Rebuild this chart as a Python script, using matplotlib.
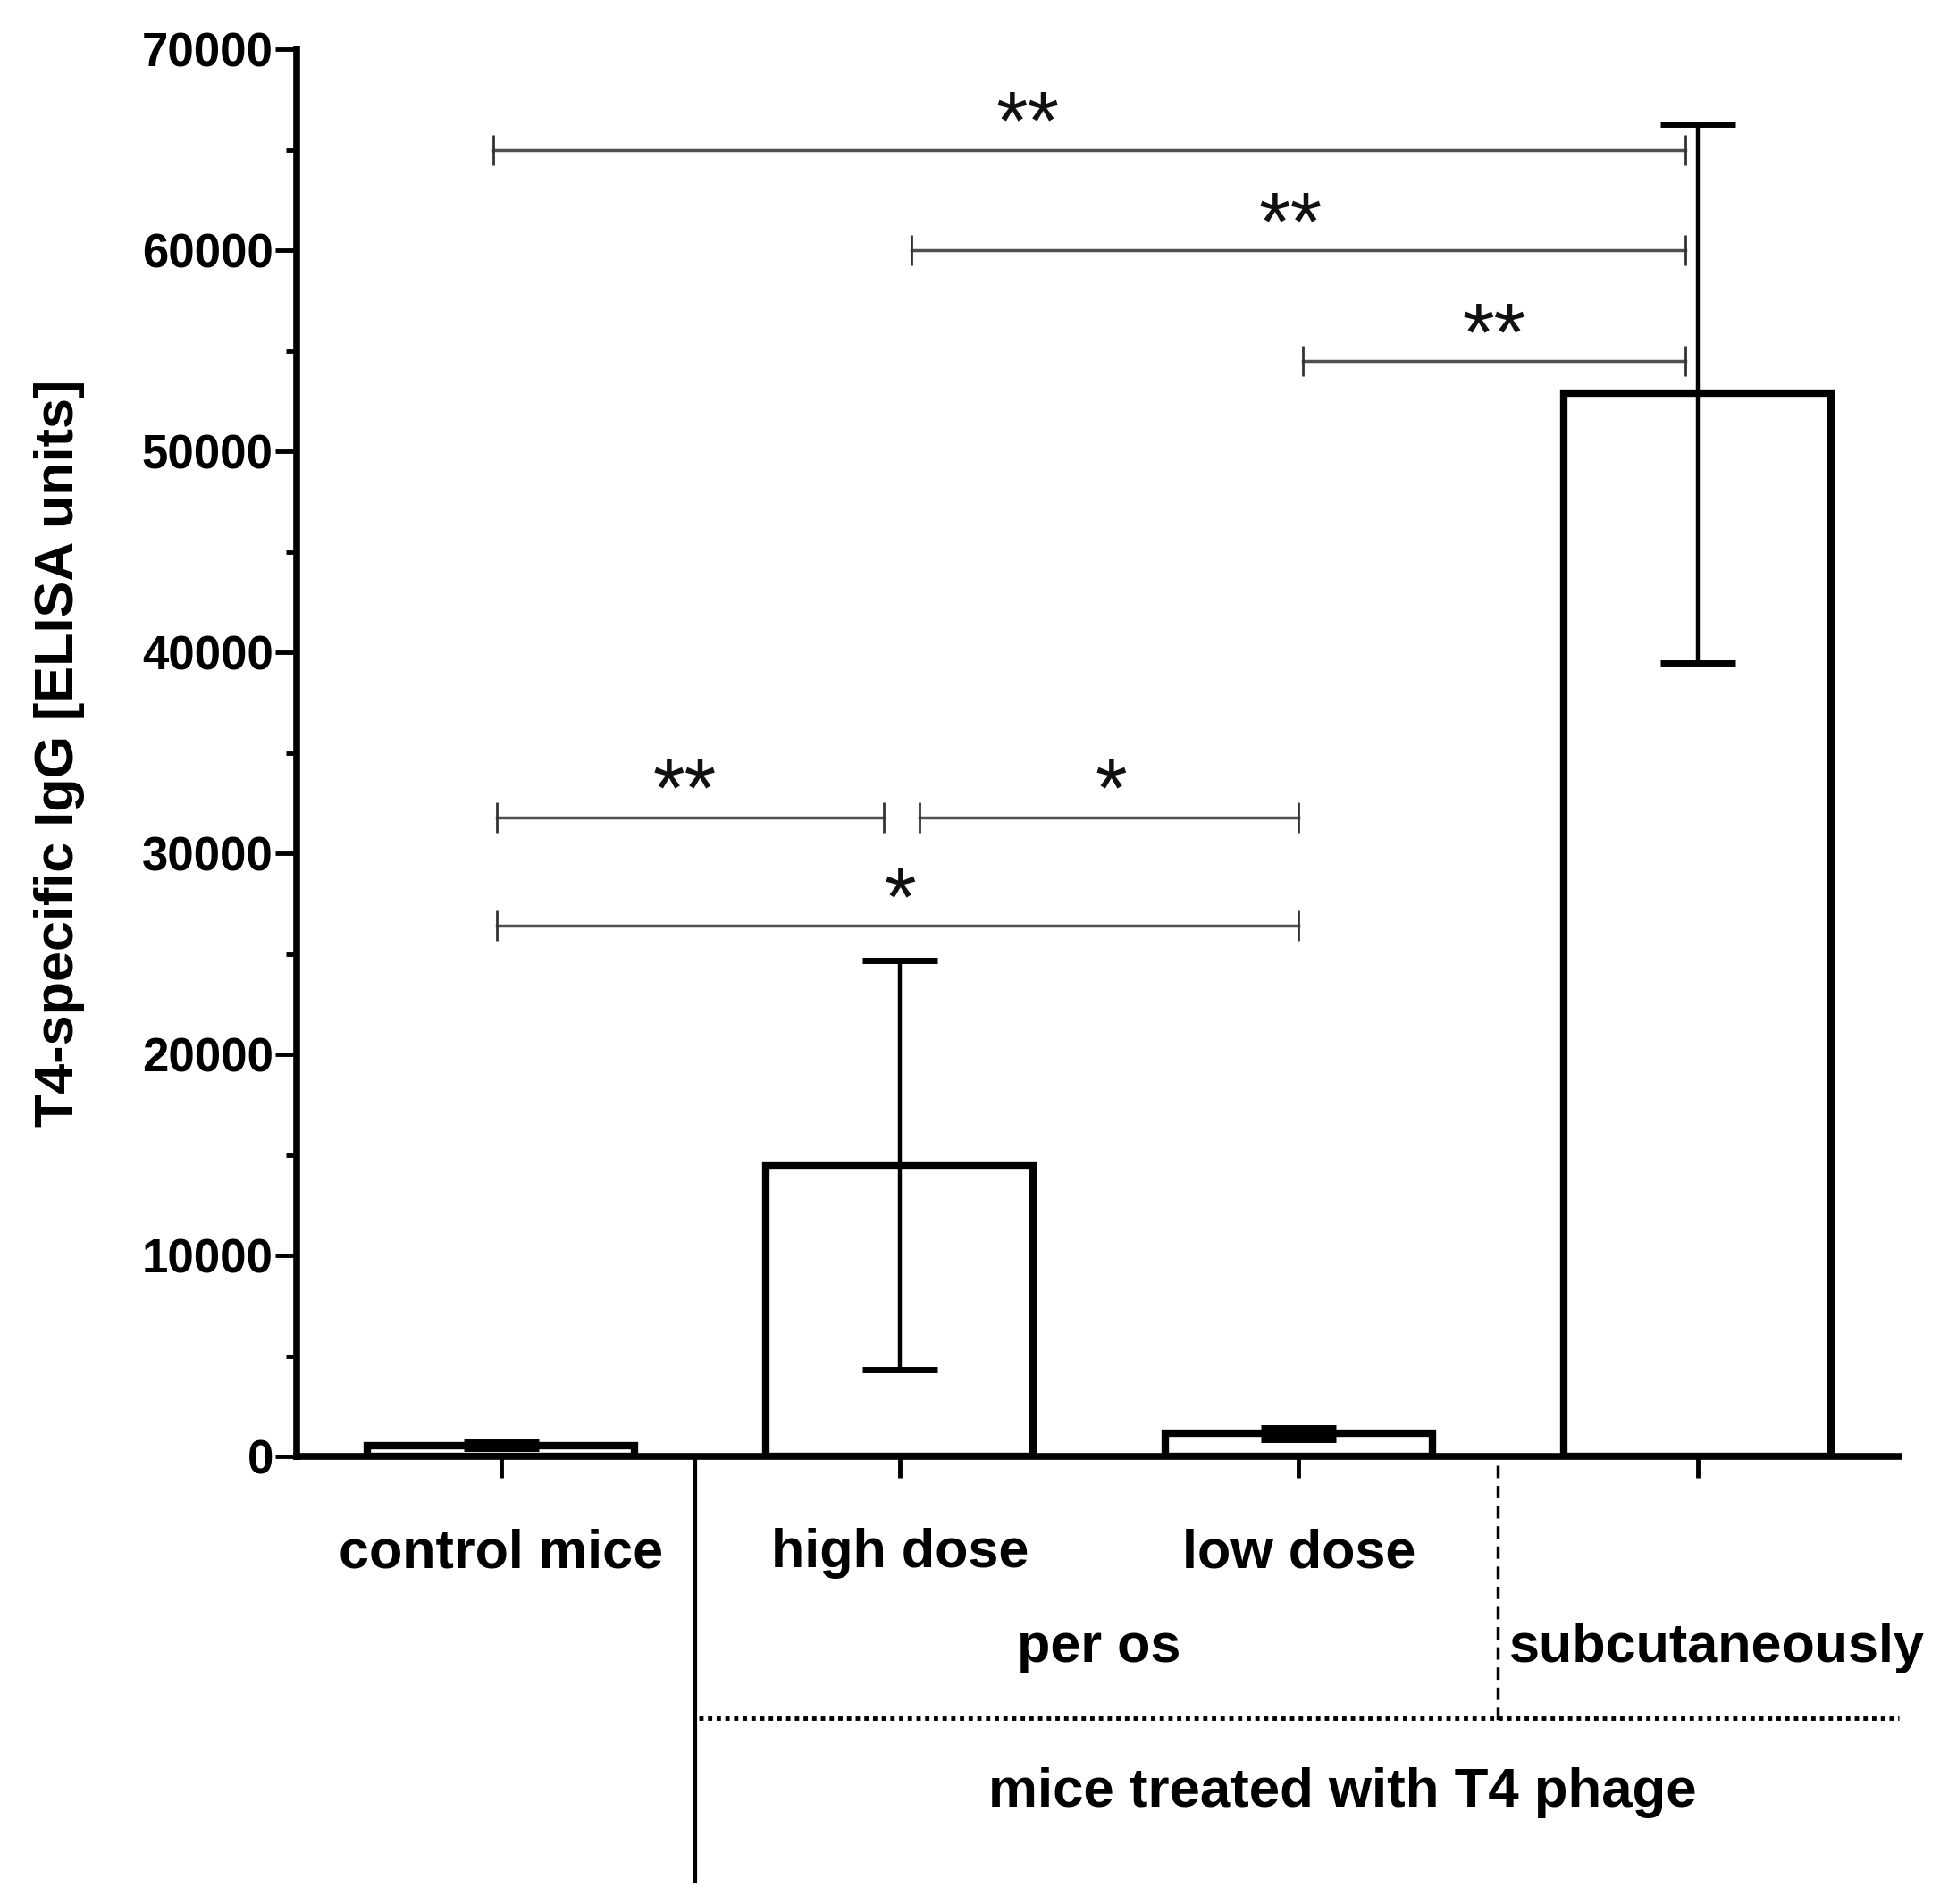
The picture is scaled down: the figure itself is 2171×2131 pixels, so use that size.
import matplotlib.pyplot as plt
import matplotlib.transforms as mtransforms
from matplotlib.ticker import MultipleLocator

plt.rcParams["font.family"] = ["Liberation Sans", "DejaVu Sans"]

# group means and error (SD)
GROUPS = ["control mice", "high dose", "low dose", "subcutaneously"]
MEANS = [550, 14500, 1150, 52900]
ERRORS = [150, 10200, 300, 13400]

# significance brackets: left x, right x, height, label, label x
BRACKET_LEFT = [-0.02, 1.03, 2.01, -0.01, 1.05, -0.01]
BRACKET_RIGHT = [2.97, 2.97, 2.97, 0.96, 2.00, 2.00]
BRACKET_Y = [65000, 60000, 54500, 31800, 31800, 26400]
BRACKET_LABEL = ["**", "**", "**", "**", "*", "*"]
BRACKET_LABEL_X = [1.32, 1.98, 2.49, 0.46, 1.53, 1.00]

Y_TICKS = [0, 10000, 20000, 30000, 40000, 50000, 60000, 70000]


def draw_bars(ax):
    x = list(range(len(GROUPS)))
    ax.bar(x, MEANS, width=0.67, color="white", edgecolor="black",
           linewidth=6, zorder=2)
    ax.errorbar(x, MEANS, yerr=ERRORS, fmt="none", ecolor="black",
                elinewidth=3.2, capsize=30, capthick=5, zorder=3)


def draw_brackets(ax):
    for left, right, y, label, lx in zip(BRACKET_LEFT, BRACKET_RIGHT,
                                         BRACKET_Y, BRACKET_LABEL,
                                         BRACKET_LABEL_X):
        ax.plot([left, right], [y, y], color="#505050", linewidth=2.5,
                zorder=4)
        ax.plot([left, right], [y, y], linestyle="none", marker="|",
                markersize=24, markeredgewidth=2, color="#333333", zorder=4)
        ax.text(lx, y + 50, label, ha="center", va="baseline",
                fontsize=66, color="#111111", zorder=5)


def draw_group_labels(ax):
    trans = mtransforms.blended_transform_factory(ax.transData, ax.transAxes)

    for i, name in enumerate(GROUPS[:3]):
        ax.text(i, -0.069, name, transform=trans, ha="center", va="center",
                fontsize=44, fontweight="bold")

    ax.text(1.5, -0.136, "per os", transform=trans, ha="center",
            va="center", fontsize=44, fontweight="bold")
    ax.text(3.05, -0.136, "subcutaneously", transform=trans, ha="center",
            va="center", fontsize=44, fontweight="bold", clip_on=False)
    ax.text(2.11, -0.239, "mice treated with T4 phage", transform=trans,
            ha="center", va="center", fontsize=44.5, fontweight="bold")

    # separators under the axis
    ax.plot([0.487, 0.487], [0, -0.302], transform=trans, color="black",
            linewidth=3, clip_on=False)
    ax.plot([2.498, 2.498], [-0.006, -0.187], transform=trans, color="black",
            linewidth=2.5, linestyle=(0, (4, 2.5)), clip_on=False)
    ax.plot([0.496, 3.506], [-0.186, -0.186], transform=trans, color="black",
            linewidth=3.5, linestyle=(0, (1, 1)), clip_on=False)


def main():
    fig = plt.figure(figsize=(21.71, 21.31), dpi=100)
    ax = fig.add_axes([0.153, 0.235, 0.826, 0.739])

    draw_bars(ax)
    draw_brackets(ax)

    ax.set_xlim(-0.512, 3.506)
    ax.set_ylim(0, 70000)
    ax.set_yticks(Y_TICKS)
    ax.set_yticklabels([str(v) for v in Y_TICKS], fontsize=38,
                       fontweight="bold")
    ax.yaxis.set_minor_locator(MultipleLocator(5000))
    ax.set_xticks(range(len(GROUPS)))
    ax.set_xticklabels([])

    ax.tick_params(axis="y", which="major", length=17, width=3.5, pad=2)
    ax.tick_params(axis="y", which="minor", length=9, width=3.5)
    ax.tick_params(axis="x", which="major", length=17, width=3.5)

    for side in ["top", "right"]:
        ax.spines[side].set_visible(False)
    ax.spines["left"].set_linewidth(5.5)
    ax.spines["bottom"].set_linewidth(5.5)

    ax.set_ylabel("T4-specific IgG [ELISA units]", fontsize=44,
                  fontweight="bold")
    ax.yaxis.set_label_coords(-0.132, 0.5)

    draw_group_labels(ax)

    fig.savefig("out.png", dpi=100)
    plt.close(fig)


if __name__ == "__main__":
    main()
